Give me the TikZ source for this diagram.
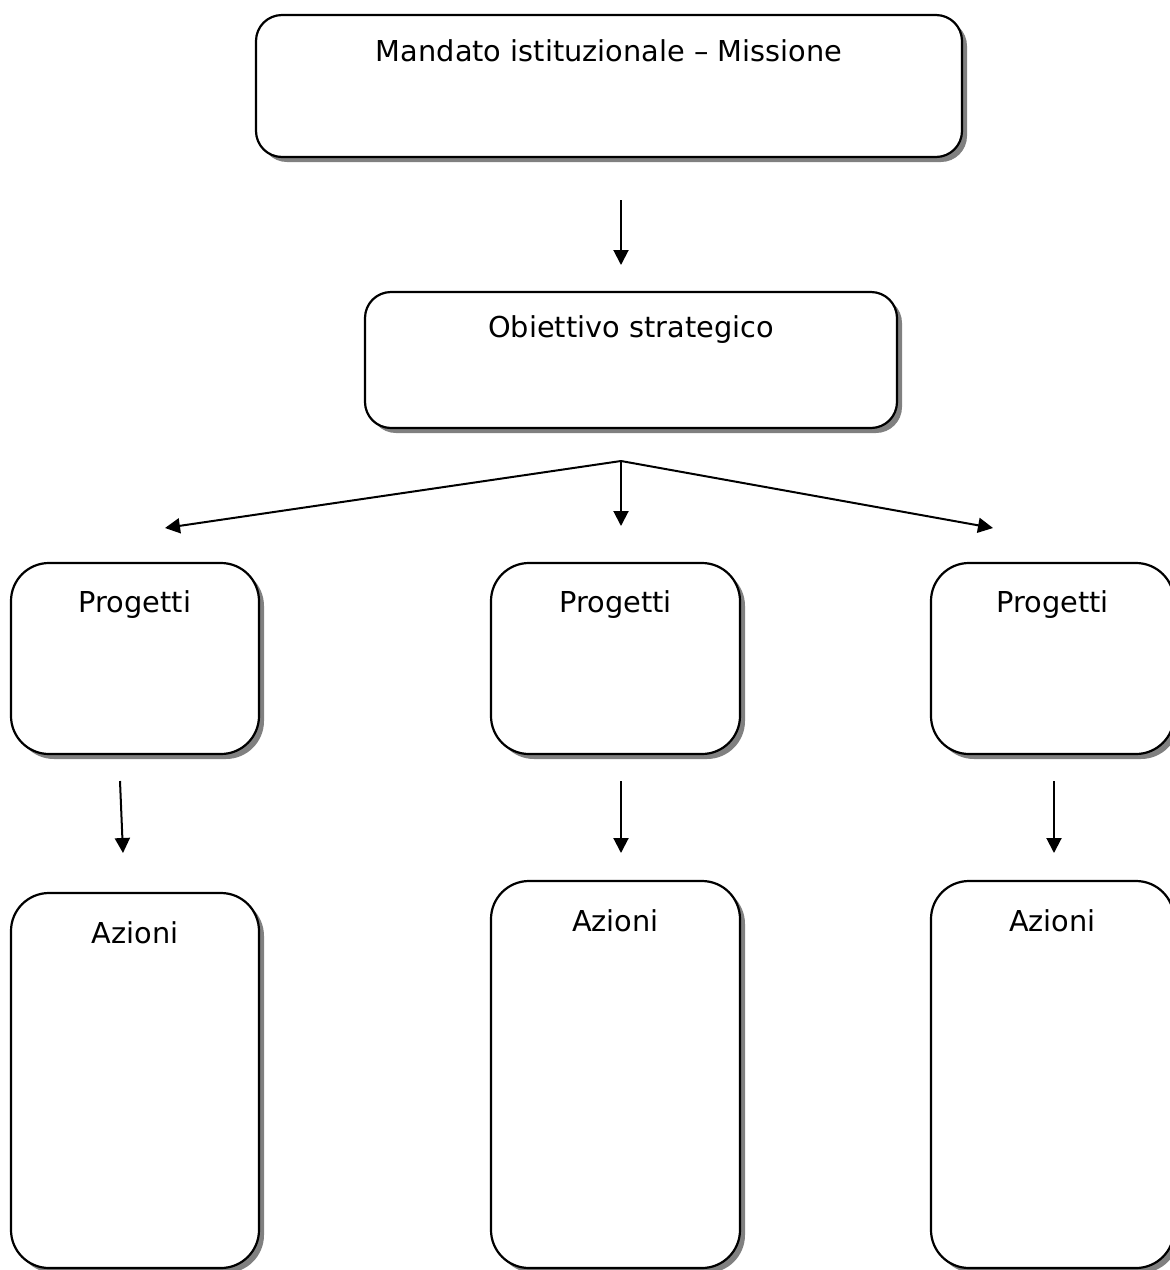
\documentclass[tikz,border=0pt]{standalone}
\usepackage{fontspec}
\setmainfont{DejaVu Sans}
\usetikzlibrary{arrows.meta,shadows}

\tikzset{
  box/.style={draw, line width=1.1pt, fill=white, inner sep=0pt, anchor=base,
    font=\fontsize{14.4}{17}\selectfont,
    drop shadow={shadow xshift=2.5pt, shadow yshift=-2.5pt, fill=black!50, opacity=1}},
  bigbox/.style={box, rounded corners=13pt},
  smallbox/.style={box, rounded corners=19pt},
  arr/.style={line width=1pt, -{Triangle[length=7.5pt, width=7.5pt]}}
}

\begin{document}
\begin{tikzpicture}[x=0.5pt, y=-0.5pt]
    \useasboundingbox (0,0) rectangle (1170,1270);
    \clip (0,0) rectangle (1170,1270);

    % Draw top boxes
    \node[bigbox, minimum width=353pt, text height=23pt, text depth=48pt]
      (mandato) at (609,61) {Mandato istituzionale \textendash{} Missione};
    \node[bigbox, minimum width=266pt, text height=22.5pt, text depth=45.5pt]
      (obiettivo) at (631,337) {Obiettivo strategico};

    \coordinate (m1) at (621,200);
    \coordinate (m2) at (621,265);
    \draw[arr] (m1) -- (m2);

    % Draw the three columns
    \coordinate (br) at (621,461);
    \foreach \c/\x/\w/\ay/\ad/\ax/\bx/\tx/\ty in {L/135/124/943/162.5/120/123/165/528,
                                                M/615.5/124.5/931/168.5/621/621/621/526,
                                                R/1052.5/121.5/931/168.5/1054/1054/993/528}
    {
      \node[smallbox, minimum width=\w pt, text height=24.5pt, text depth=71pt]
        (prog\c) at (\x,612) {Progetti};
      \node[smallbox, minimum width=\w pt, text height=25pt, text depth=\ad pt]
        (azioni\c) at (\x,\ay) {Azioni};
      \coordinate (t\c) at (\tx,\ty);
      \coordinate (a\c) at (\ax,781);
      \coordinate (b\c) at (\bx,853);
      \draw[arr] (br) -- (t\c);
      \draw[arr] (a\c) -- (b\c);
    }

\end{tikzpicture}
\end{document}
